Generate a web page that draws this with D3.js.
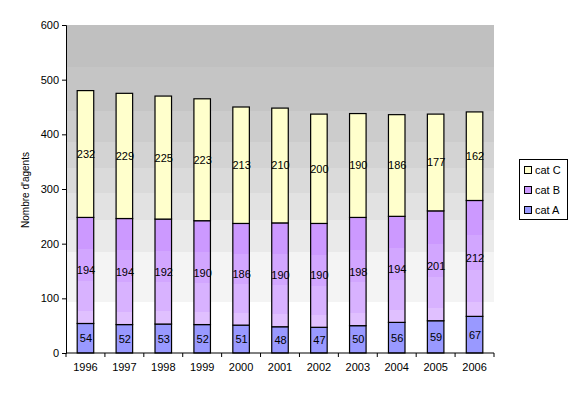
<!DOCTYPE html>
<html><head><meta charset="utf-8">
<script src="https://cdn.jsdelivr.net/npm/d3@7"></script>
<style>body{margin:0;background:#fff;} text{font-family:"Liberation Sans",Arial,sans-serif;}</style>
</head><body>
<svg id="c" width="576" height="395"></svg>
<script>
const years = ["1996","1997","1998","1999","2000","2001","2002","2003","2004","2005","2006"];
const catA = [54,52,53,52,51,48,47,50,56,59,67];
const catB = [194,194,192,190,186,190,190,198,194,201,212];
const catC = [232,229,225,223,213,210,200,190,186,177,162];
const seriesNames = ["cat A","cat B","cat C"];
const yTicks = [0,100,200,300,400,500,600];

const svg = d3.select("#c");
const m = {l:66, t:25, r:494, b:353};
const x = d3.scaleBand().domain(years).range([m.l, m.r]).paddingInner(0.575).paddingOuter(0.2875);
const y = d3.scaleLinear().domain([0,600]).range([m.b, m.t]);

const defs = svg.append("defs");
// stepped background gradient
const bgStops = [[0,"#c0c0c0"],[0.128,"#c5c5c5"],[0.262,"#cccccc"],[0.357,"#d3d3d3"],[0.436,"#dadada"],[0.512,"#e2e2e2"],[0.595,"#eaeaea"],[0.692,"#f4f4f4"],[0.845,"#ffffff"]];
const bg = defs.append("linearGradient").attr("id","bg").attr("x1",0).attr("y1",0).attr("x2",0).attr("y2",1);
bgStops.forEach((s,i)=>{
  bg.append("stop").attr("offset",s[0]).attr("stop-color",s[1]);
  const nx = i<bgStops.length-1 ? bgStops[i+1][0] : 1;
  bg.append("stop").attr("offset",nx).attr("stop-color",s[1]);
});
const gB = defs.append("linearGradient").attr("id","gB").attr("x1",0).attr("y1",0).attr("x2",0).attr("y2",1);
[[0,0.3,"#cc99ff"],[0.3,0.6,"#d2a6ff"],[0.6,0.88,"#d8b2ff"],[0.88,1,"#e0c0ff"]].forEach(s=>{
  gB.append("stop").attr("offset",s[0]).attr("stop-color",s[2]);
  gB.append("stop").attr("offset",s[1]).attr("stop-color",s[2]);
});

svg.append("rect").attr("x",m.l).attr("y",m.t).attr("width",m.r-m.l).attr("height",m.b-m.t).attr("fill","url(#bg)");

const data = years.map((yr,i)=>({year:yr, "cat A":catA[i], "cat B":catB[i], "cat C":catC[i]}));
const stack = d3.stack().keys(seriesNames)(data);
const fills = {"cat A":"#9999ff","cat B":"url(#gB)","cat C":"#ffffcc"};
const legendFills = {"cat A":"#9999ff","cat B":"#cc99ff","cat C":"#ffffcc"};

stack.forEach(s=>{
  const g = svg.append("g");
  g.selectAll("rect").data(s).join("rect")
    .attr("x",d=>x(d.data.year)).attr("width",x.bandwidth())
    .attr("y",d=>y(d[1])).attr("height",d=>y(d[0])-y(d[1]))
    .attr("fill",fills[s.key]).attr("stroke","#000").attr("stroke-width",1.2);
  g.selectAll("text").data(s).join("text")
    .attr("x",d=>x(d.data.year)+x.bandwidth()/2+0.5)
    .attr("y",d=>(y(d[0])+y(d[1]))/2+4)
    .attr("text-anchor","middle").attr("font-size","11px").attr("fill","#000")
    .text(d=>d[1]-d[0]);
});

// axes
const yAxis = d3.axisLeft(y).tickValues(yTicks).tickSize(4).tickPadding(3);
const ya = svg.append("g").attr("transform",`translate(${m.l},0)`).call(yAxis);
const xAxis = d3.axisBottom(x).tickSize(0).tickPadding(10);
const xa = svg.append("g").attr("transform",`translate(0,${m.b})`).call(xAxis);
[ya,xa].forEach(a=>{
  a.selectAll("text").attr("font-size","11px").attr("fill","#000").attr("font-family","Liberation Sans, Arial, sans-serif");
  a.selectAll("line,path").attr("stroke","#000");
});
xa.select(".domain").attr("d",`M${m.l},0H${m.r}`);
// category boundary ticks
const step = x.step();
const bounds = d3.range(years.length+1).map(i=>m.l+i*(m.r-m.l)/years.length);
xa.selectAll("line.bt").data(bounds).join("line").attr("class","bt")
  .attr("x1",d=>d).attr("x2",d=>d).attr("y1",0).attr("y2",4).attr("stroke","#000");

svg.append("text").attr("transform","translate(29,190) rotate(-90)")
  .attr("text-anchor","middle").attr("font-size","10px").text("Nombre d'agents");

// legend
const lg = svg.append("g");
lg.append("rect").attr("x",519.5).attr("y",159.5).attr("width",48).attr("height",60).attr("fill","#fff").attr("stroke","#000");
["cat C","cat B","cat A"].forEach((k,i)=>{
  const cy = 170 + i*20;
  lg.append("rect").attr("x",524.5).attr("y",cy-3.5).attr("width",7).attr("height",7).attr("fill",legendFills[k]).attr("stroke","#000");
  lg.append("text").attr("x",535).attr("y",cy+4).attr("font-size","11px").text(k);
});
</script>
</body></html>
